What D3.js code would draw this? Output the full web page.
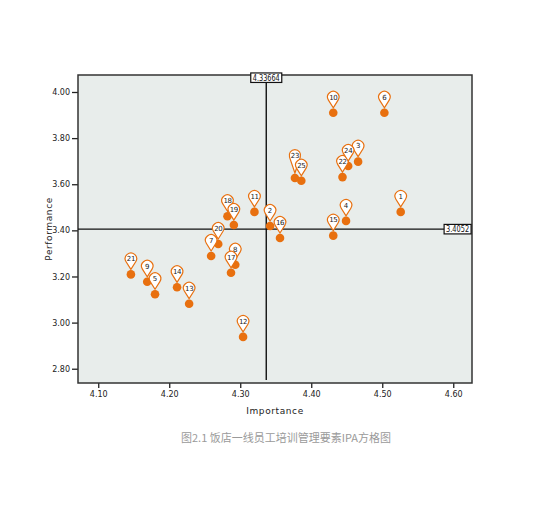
<!DOCTYPE html>
<html><head><meta charset="utf-8">
<script src="https://cdn.jsdelivr.net/npm/d3@7"></script>
<style>
html,body{margin:0;padding:0;background:#fff;}
svg{display:block;}
text{font-family:"DejaVu Sans",Verdana,sans-serif;}
</style></head>
<body>
<svg id="c" width="550" height="509"></svg>
<script>
const ids =        [1,2,3,4,5,6,7,8,9,10,11,12,13,14,15,16,17,18,19,20,21,22,23,24,25];
const importance = [4.526,4.342,4.466,4.449,4.180,4.503,4.259,4.293,4.169,4.431,4.320,4.304,4.228,4.211,4.431,4.356,4.287,4.282,4.291,4.269,4.146,4.444,4.377,4.452,4.386];
const performance= [3.480,3.419,3.698,3.441,3.123,3.910,3.289,3.251,3.177,3.910,3.480,2.938,3.082,3.153,3.377,3.367,3.216,3.461,3.423,3.341,3.209,3.631,3.627,3.679,3.615];
const xTicks = [4.10,4.20,4.30,4.40,4.50,4.60];
const yTicks = [2.80,3.00,3.20,3.40,3.60,3.80,4.00];
const meanImportance = 4.33664, meanImportanceLabel = "4.33664";
const meanPerformance = 3.4052, meanPerformanceLabel = "3.4052";
const xTitle = "Importance", yTitle = "Performance";
const caption = "图2.1 饭店一线员工培训管理要素IPA方格图";

const L=78, R=472, T=75, B=383;
const orange = "#e8700f";
const svg = d3.select("#c");
const x = d3.scaleLinear().domain([4.0715,4.6264]).range([L,R]);
const y = d3.scaleLinear().domain([2.7381,4.0737]).range([B,T]);

svg.append("rect").attr("x",L).attr("y",T).attr("width",R-L).attr("height",B-T)
  .attr("fill","#e8edeb");

// axes
const xa = svg.append("g").attr("transform",`translate(0,${B})`)
  .call(d3.axisBottom(x).tickValues(xTicks).tickFormat(d3.format(".2f")).tickSize(5).tickPadding(3));
const ya = svg.append("g").attr("transform",`translate(${L},0)`)
  .call(d3.axisLeft(y).tickValues(yTicks).tickFormat(d3.format(".2f")).tickSize(6).tickPadding(2));
[xa,ya].forEach(g=>{
  g.select(".domain").remove();
  g.selectAll("line").attr("stroke","#222").attr("stroke-width",1.3);
  g.selectAll("text").attr("font-size",8).attr("fill","#222");
});

// border
svg.append("rect").attr("x",L).attr("y",T).attr("width",R-L).attr("height",B-T)
  .attr("fill","none").attr("stroke","#333").attr("stroke-width",1.5);

// reference lines
const vx = x(meanImportance), hy = y(meanPerformance);
svg.append("line").attr("x1",vx).attr("x2",vx).attr("y1",82).attr("y2",380)
  .attr("stroke","#111").attr("stroke-width",1.4);
svg.append("line").attr("x1",L).attr("x2",444).attr("y1",hy).attr("y2",hy)
  .attr("stroke","#111").attr("stroke-width",1.4);

function boxLabel(cx, cy, w, h, txt){
  svg.append("rect").attr("x",cx-w/2).attr("y",cy-h/2).attr("width",w).attr("height",h)
    .attr("fill","#fff").attr("stroke","#111").attr("stroke-width",1.2);
  svg.append("text").attr("x",cx).attr("y",cy+3).attr("text-anchor","middle")
    .attr("font-size",8).attr("textLength",w-4).attr("lengthAdjust","spacingAndGlyphs")
    .attr("fill","#111").text(txt);
}
boxLabel(vx, 77.7, 31, 9.5, meanImportanceLabel);
boxLabel(457.6, hy, 27, 9.5, meanPerformanceLabel);

// points
const data = ids.map((id,i)=>({id, imp:importance[i], perf:performance[i]}));
data.forEach(d=>{ d.px = x(d.imp); d.py = y(d.perf); });
// lift a pin head when a neighbouring pin sits just below it
data.forEach(d=>{
  d.ext = data.some(o=>o!==d && Math.abs(o.px-d.px)<8 && (o.py-d.py)>0 && (o.py-d.py)<6) ? 7 : 0;
});
svg.append("g").selectAll("circle").data(data).join("circle")
  .attr("cx",d=>d.px).attr("cy",d=>d.py).attr("r",4.3).attr("fill",orange);

const r = 5.7, tip = 5, baseC = 15.7;
function pinPath(ext){
  const c = baseC + ext, dd = c - tip;
  const cos = r/dd, sin = Math.sqrt(1-cos*cos);
  const tx = r*sin, ty = -c + r*cos;
  return `M0,${-tip} L${-tx},${ty} A${r},${r} 0 1,1 ${tx},${ty} Z`;
}
const pins = svg.append("g").selectAll("g").data(data).join("g")
  .attr("transform",d=>`translate(${d.px},${d.py})`);
pins.append("path").attr("d",d=>pinPath(d.ext)).attr("fill","#fff").attr("stroke",orange).attr("stroke-width",1.2);
pins.append("text").attr("x",0).attr("y",d=>-baseC-d.ext+2.5).attr("text-anchor","middle")
  .attr("font-size",7).attr("letter-spacing",d=>d.id>9?-0.4:0)
  .attr("fill","#222").text(d=>d.id);

// titles
svg.append("text").attr("x",(L+R)/2).attr("y",414).attr("text-anchor","middle")
  .attr("font-size",9).attr("letter-spacing",0.6).attr("fill","#222").text(xTitle);
svg.append("text").attr("transform",`translate(52,${(T+B)/2}) rotate(-90)`)
  .attr("text-anchor","middle").attr("font-size",9).attr("letter-spacing",0.6).attr("fill","#222").text(yTitle);

svg.append("text").attr("x",286).attr("y",442).attr("text-anchor","middle")
  .style("font-family",'"Noto Sans CJK SC","Noto Sans",sans-serif')
  .attr("font-size",11).attr("fill","#9a9a9a").text(caption);
</script>
</body></html>
